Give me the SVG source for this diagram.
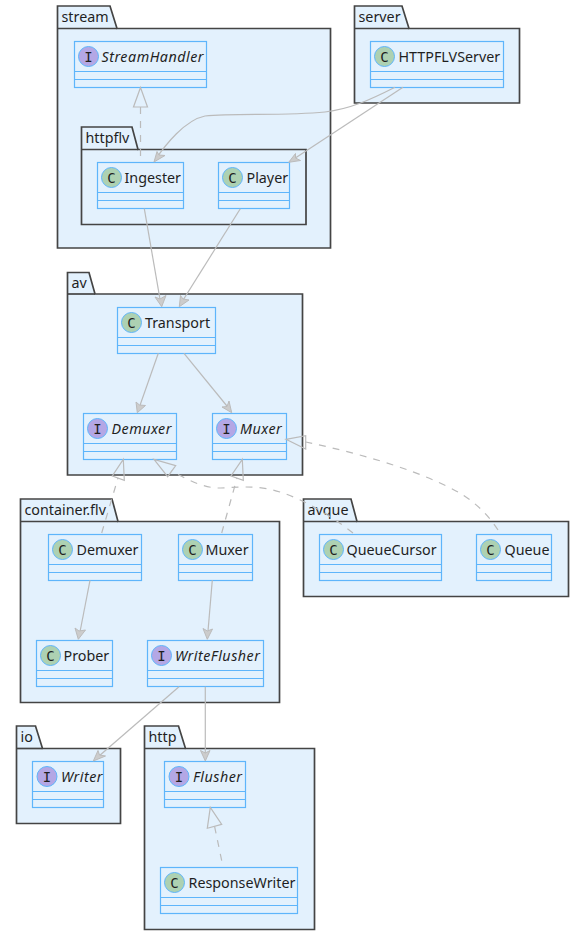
<svg xmlns="http://www.w3.org/2000/svg" width="584" height="935" viewBox="0 0 584 935">
<style>
text{font-family:"Noto Sans","DejaVu Sans",sans-serif;font-size:14.3px;fill:#1f1f1f}
.i{font-style:italic;letter-spacing:.5px}
.pk{fill:#e3f1fd;stroke:#444;stroke-width:1.7}
.nb{fill:#e3f1fd;stroke:#5eb5fb;stroke-width:1.2}
.ci{fill:#add1b2;stroke:#5eb5fb;stroke-width:1}
.ii{fill:#b4a7e5;stroke:#5eb5fb;stroke-width:1}
text.g{font-family:"DejaVu Sans Mono","Liberation Mono",monospace;font-size:14px;text-anchor:middle}
#connectors path{fill:none;stroke:#bbb;stroke-width:1.2}
#connectors .d{stroke-dasharray:7 7}
#connectors .h{fill:none;stroke:#bbb;stroke-width:1.2}
#connectors .a{fill:#ccc;stroke:#bbb;stroke-width:1}
</style>
<g id="pkg-stream"><path class="pk" d="M57.5 28.500V6H110L117 28.500H330.500V248H57.500Z"/><path class="pk" d="M57.500 28.500H117"/><text x="61.500" y="22">stream</text></g>
<g id="pkg-server"><path class="pk" d="M354.500 28.500V6H402L409 28.500H519.500V103H354.500Z"/><path class="pk" d="M354.500 28.500H409"/><text x="358.500" y="22">server</text></g>
<g id="pkg-httpflv"><path class="pk" d="M81.500 149.500V127H132L138 149.500H306V224.500H81.500Z"/><path class="pk" d="M81.500 149.500H138"/><text x="85.500" y="143">httpflv</text></g>
<g id="pkg-av"><path class="pk" d="M67.500 294V272.500H89L95 294H302.500V475H67.500Z"/><path class="pk" d="M67.500 294H95"/><text x="71.500" y="288">av</text></g>
<g id="pkg-container"><path class="pk" d="M20.500 521.500V499H112L118 521.500H279.500V702.500H20.500Z"/><path class="pk" d="M20.500 521.500H118"/><text x="24.500" y="515">container.flv</text></g>
<g id="pkg-avque"><path class="pk" d="M303.500 521.500V499H351L357 521.500H568.500V596.500H303.500Z"/><path class="pk" d="M303.500 521.500H357"/><text x="307.500" y="515">avque</text></g>
<g id="pkg-io"><path class="pk" d="M16.500 748.500V726H35.500L42.500 748.500H120.500V823.500H16.500Z"/><path class="pk" d="M16.500 748.500H42.500"/><text x="20.500" y="742">io</text></g>
<g id="pkg-http"><path class="pk" d="M144.500 748.500V726H178.500L185.500 748.500H314.500V929.500H144.500Z"/><path class="pk" d="M144.500 748.500H185.500"/><text x="148.500" y="742">http</text></g>

<g id="StreamHandler"><rect class="nb" x="74.500" y="41.500" width="132" height="46"/><path class="nb" d="M74.500 71.500H206.500M74.500 79.500H206.500"/><circle class="ii" cx="88.500" cy="56.500" r="10"/><text class="g" x="88.500" y="61.500">I</text><text class="i" x="101.500" y="61.500">StreamHandler</text></g>
<g id="HTTPFLVServer"><rect class="nb" x="370.500" y="41.500" width="133" height="46"/><path class="nb" d="M370.500 71.500H503.500M370.500 79.500H503.500"/><circle class="ci" cx="384.500" cy="56.500" r="10"/><text class="g" x="384.500" y="61.500">C</text><text x="398.500" y="61.500">HTTPFLVServer</text></g>
<g id="Ingester"><rect class="nb" x="97.500" y="162.500" width="86" height="46"/><path class="nb" d="M97.500 192.500H183.500M97.500 200.500H183.500"/><circle class="ci" cx="111.500" cy="177.500" r="10"/><text class="g" x="111.500" y="182.500">C</text><text x="124.500" y="182.500">Ingester</text></g>
<g id="Player"><rect class="nb" x="218.500" y="162.500" width="71" height="46"/><path class="nb" d="M218.500 192.500H289.500M218.500 200.500H289.500"/><circle class="ci" cx="232.500" cy="177.500" r="10"/><text class="g" x="232.500" y="182.500">C</text><text x="246.500" y="182.500">Player</text></g>
<g id="Transport"><rect class="nb" x="117.500" y="307.500" width="98" height="46"/><path class="nb" d="M117.500 337.500H215.500M117.500 345.500H215.500"/><circle class="ci" cx="131.500" cy="322.500" r="10"/><text class="g" x="131.500" y="327.500">C</text><text x="145" y="327.500">Transport</text></g>
<g id="av-Demuxer"><rect class="nb" x="83.500" y="413.500" width="93" height="46"/><path class="nb" d="M83.500 443.500H176.500M83.500 451.500H176.500"/><circle class="ii" cx="97.500" cy="428.500" r="10"/><text class="g" x="97.500" y="433.500">I</text><text class="i" x="111.500" y="433.500">Demuxer</text></g>
<g id="av-Muxer"><rect class="nb" x="212.500" y="413.500" width="74" height="46"/><path class="nb" d="M212.500 443.500H286.500M212.500 451.500H286.500"/><circle class="ii" cx="226.500" cy="428.500" r="10"/><text class="g" x="226.500" y="433.500">I</text><text class="i" x="240" y="433.500">Muxer</text></g>
<g id="flv-Demuxer"><rect class="nb" x="48.500" y="534.500" width="93" height="46"/><path class="nb" d="M48.500 564.500H141.500M48.500 572.500H141.500"/><circle class="ci" cx="62.500" cy="549.500" r="10"/><text class="g" x="62.500" y="554.500">C</text><text x="76.500" y="554.500">Demuxer</text></g>
<g id="flv-Muxer"><rect class="nb" x="178.500" y="534.500" width="74" height="46"/><path class="nb" d="M178.500 564.500H252.500M178.500 572.500H252.500"/><circle class="ci" cx="192.500" cy="549.500" r="10"/><text class="g" x="192.500" y="554.500">C</text><text x="205.500" y="554.500">Muxer</text></g>
<g id="Prober"><rect class="nb" x="36.500" y="640.500" width="76" height="46"/><path class="nb" d="M36.500 670.500H112.500M36.500 678.500H112.500"/><circle class="ci" cx="50.500" cy="655.500" r="10"/><text class="g" x="50.500" y="660.500">C</text><text x="63.500" y="660.500">Prober</text></g>
<g id="WriteFlusher"><rect class="nb" x="147.500" y="640.500" width="116" height="46"/><path class="nb" d="M147.500 670.500H263.500M147.500 678.500H263.500"/><circle class="ii" cx="161.500" cy="655.500" r="10"/><text class="g" x="161.500" y="660.500">I</text><text class="i" x="175" y="660.500">WriteFlusher</text></g>
<g id="QueueCursor"><rect class="nb" x="319.500" y="534.500" width="122" height="46"/><path class="nb" d="M319.500 564.500H441.500M319.500 572.500H441.500"/><circle class="ci" cx="333.500" cy="549.500" r="10"/><text class="g" x="333.500" y="554.500">C</text><text x="346.500" y="554.500">QueueCursor</text></g>
<g id="Queue"><rect class="nb" x="476.500" y="534.500" width="75" height="46"/><path class="nb" d="M476.500 564.500H551.500M476.500 572.500H551.500"/><circle class="ci" cx="490.500" cy="549.500" r="10"/><text class="g" x="490.500" y="554.500">C</text><text x="504.500" y="554.500">Queue</text></g>
<g id="Writer"><rect class="nb" x="32.500" y="761.500" width="71" height="46"/><path class="nb" d="M32.500 791.500H103.500M32.500 799.500H103.500"/><circle class="ii" cx="47" cy="776.500" r="10"/><text class="g" x="47" y="781.500">I</text><text class="i" x="61" y="781.500">Writer</text></g>
<g id="Flusher"><rect class="nb" x="164.500" y="761.500" width="81" height="46"/><path class="nb" d="M164.500 791.500H245.500M164.500 799.500H245.500"/><circle class="ii" cx="179" cy="776.500" r="10"/><text class="g" x="179" y="781.500">I</text><text class="i" x="193" y="781.500">Flusher</text></g>
<g id="ResponseWriter"><rect class="nb" x="160.500" y="867.500" width="137" height="46"/><path class="nb" d="M160.500 897.500H297.500M160.500 905.500H297.500"/><circle class="ci" cx="174.500" cy="882.500" r="10"/><text class="g" x="174.500" y="887.500">C</text><text x="188.500" y="887.500">ResponseWriter</text></g>

<g id="connectors">
<path class="d" d="M140.500 156V107"/><polygon class="h" points="140.500,87.500 133.500,107 147.500,107"/>
<path d="M395 87.300C370 100 350 109 325 112C285 116 235 113 205 116C185 120 165 145 154.500 161"/><polygon class="a" points="154,162 157,151.500 159,155 165,155.500"/>
<path d="M403 87.300L290 161.500"/><polygon class="a" points="288.700,162.300 295.500,153.500 295.500,158 300.500,160.500"/>
<path d="M144.300 208.700L161 305"/><polygon class="a" points="161.700,306.700 155,297 160,299 166,295.500"/>
<path d="M240.300 208.700L180 305"/><polygon class="a" points="179.300,306.700 180.500,295.500 183,299 189,300"/>
<path d="M158.300 353.300L138 411"/><polygon class="a" points="137.300,412.700 136,402 139.500,405 145.500,405.500"/>
<path d="M184 353.300L231 411"/><polygon class="a" points="231.700,412.700 222,407 227,406.500 229,401"/>
<path class="d" d="M101.700 533L118 478"/><polygon class="h" points="123.300,459.300 112.300,476 124.300,480.300"/>
<path class="d" d="M221.700 533L237 478"/><polygon class="h" points="242.300,459.300 231,476 243.300,480.300"/>
<path class="d" d="M353 533C330 515 305 500 280 492C255 484 235 488 217 488C200 487 185 478 171 471"/><polygon class="h" points="154,459.300 167.700,476.700 175.700,465.700"/>
<path class="d" d="M498 530C488 515 478 505 463 495C445 484 400 462 305.700 442"/><polygon class="h" points="286,439.300 305.700,435.700 305.700,449"/>
<path d="M90 580.300L79 637"/><polygon class="a" points="78.300,639.300 75,628 79,631 85.500,630"/>
<path d="M212.300 580.300L207.500 637"/><polygon class="a" points="207.300,639.300 203,628.500 207.500,631 212.500,629"/>
<path d="M179 686.700L95 759.500"/><polygon class="a" points="93.300,761 98,750.500 99.500,755 105.500,756"/>
<path d="M205.300 686.700V759"/><polygon class="a" points="205.300,761 200.500,750.500 205.300,753 210,750.500"/>
<path class="d" d="M221.700 860.700L214.500 826"/><polygon class="h" points="210.300,807.300 207.300,828.300 221.700,824.300"/>
</g>
</svg>
